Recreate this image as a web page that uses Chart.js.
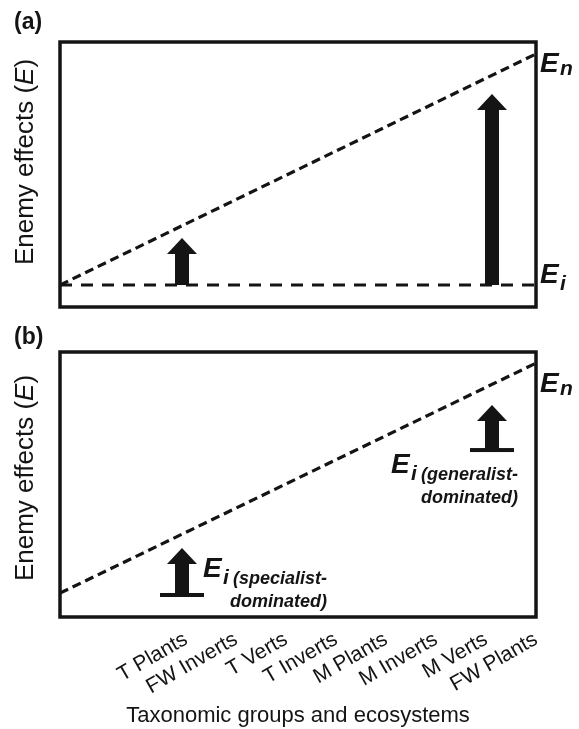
<!DOCTYPE html>
<html>
<head>
<meta charset="utf-8">
<script src="https://cdn.jsdelivr.net/npm/chart.js@4.4.1/dist/chart.umd.min.js"></script>
<style>
  body { margin: 0; background: #fff; }
  canvas { display: block; }
</style>
</head>
<body>
<canvas id="chartA" width="579" height="320"></canvas>
<canvas id="chartB" width="579" height="409"></canvas>
<script>
const FONT = "'Liberation Sans', Arial, Helvetica, sans-serif";
const INK = '#141414';

// x axis: groups and where they sit on the axis
const categories = ['T Plants', 'FW Inverts', 'T Verts', 'T Inverts', 'M Plants', 'M Inverts', 'M Verts', 'FW Plants'];
const categoryPos = [0, 1, 2, 3, 4, 5, 6, 7];
const xEnds = [-2.52, 7];

// panel (a)
const aNatural = [8.3, 95.5];   // E_n line, left and right end
const aIntro = [8.3, 8.3];      // E_i line
const aArrowX = [-0.08, 6.12];
const aArrowFrom = [8.3, 8.3];
const aArrowTo = [26, 80.4];

// panel (b)
const bNatural = [9, 95.8];
const bArrowX = [-0.08, 6.12];
const bArrowFrom = [8.3, 63];
const bArrowTo = [26, 80];

// draws a row of text pieces with their own fonts, left to right
function drawRuns(ctx, x, y, runs) {
  runs.forEach(r => {
    ctx.font = r.font;
    ctx.fillText(r.text, x, y + (r.dy || 0));
    x += ctx.measureText(r.text).width;
  });
}

const figurePlugin = {
  id: 'figure',
  afterDatasetsDraw(chart, args, opts) {
    const ctx = chart.ctx;
    const { left, top, right, bottom } = chart.chartArea;
    const xs = chart.scales.x, ys = chart.scales.y;
    ctx.save();
    ctx.fillStyle = INK;
    ctx.strokeStyle = INK;

    // arrows
    opts.arrowX.forEach((xv, i) => {
      const px = xs.getPixelForValue(xv);
      const y0 = ys.getPixelForValue(opts.arrowFrom[i]);
      const y1 = ys.getPixelForValue(opts.arrowTo[i]);
      ctx.fillRect(px - 7, y1 + 15, 14, y0 - y1 - 15);
      ctx.beginPath();
      ctx.moveTo(px, y1);
      ctx.lineTo(px + 15, y1 + 16);
      ctx.lineTo(px - 15, y1 + 16);
      ctx.closePath();
      ctx.fill();
      if (opts.baseBars) ctx.fillRect(px - 22, y0 - 2, 44, 4);
    });

    // frame
    ctx.lineWidth = 3.5;
    ctx.strokeRect(left, top, right - left, bottom - top);

    // panel letter
    ctx.textAlign = 'left';
    ctx.textBaseline = 'alphabetic';
    ctx.font = 'bold 23px ' + FONT;
    ctx.fillText(opts.letter[0], 14, opts.letter[1]);

    // y title, rotated
    ctx.save();
    ctx.translate(26, opts.yTitleY);
    ctx.rotate(-Math.PI / 2);
    ctx.textBaseline = 'middle';
    const reg = '26px ' + FONT, ita = 'italic 26px ' + FONT;
    const parts = [{ text: 'Enemy effects (', font: reg }, { text: 'E', font: ita }, { text: ')', font: reg }];
    let w = 0;
    parts.forEach(p => { ctx.font = p.font; w += ctx.measureText(p.text).width; });
    drawRuns(ctx, -w / 2, 0, parts);
    ctx.restore();

    // E labels
    const big = 'bold italic 28px ' + FONT, sub = 'bold italic 21px ' + FONT, small = 'bold italic 18px ' + FONT;
    opts.labels.forEach(l => {
      ctx.font = big;
      ctx.fillText('E', l.x, l.y);
      ctx.font = sub;
      ctx.fillText(l.sub, l.x + 20, l.y + l.subDy);
      if (l.note) {
        ctx.font = small;
        const sx = l.x + 20 + ctx.measureText(l.sub).width;
        const first = ' ' + l.note[0];
        ctx.fillText(first, sx, l.y + l.subDy);
        const endX = sx + ctx.measureText(first).width;
        ctx.textAlign = 'right';
        ctx.fillText(l.note[1], endX, l.y + l.subDy + 23);
        ctx.textAlign = 'left';
      }
    });
    ctx.restore();
  }
};

function lineSet(ys, dash) {
  return {
    data: xEnds.map((v, i) => ({ x: v, y: ys[i] })),
    borderColor: INK,
    borderWidth: 3.2,
    borderDash: dash,
    pointRadius: 0,
    fill: false
  };
}

// Panel (a)
const chartA = new Chart(document.getElementById('chartA'), {
  type: 'line',
  data: {
    datasets: [lineSet(aNatural, [9, 5]), lineSet(aIntro, [12, 9])]
  },
  options: {
    responsive: false,
    animation: false,
    events: [],
    layout: { padding: { left: 60, right: 43, top: 42, bottom: 13 } },
    scales: {
      x: { type: 'linear', min: xEnds[0], max: xEnds[1], display: false },
      y: { min: 0, max: 100, display: false }
    },
    plugins: {
      legend: { display: false },
      tooltip: { enabled: false },
      figure: {
        arrowX: aArrowX, arrowFrom: aArrowFrom, arrowTo: aArrowTo, baseBars: false,
        letter: ['(a)', 29], yTitleY: 162,
        labels: [
          { x: 540, y: 72, sub: 'n', subDy: 3 },
          { x: 540, y: 283, sub: 'i', subDy: 7 }
        ]
      }
    }
  },
  plugins: [figurePlugin]
});

// Panel (b)
const chartB = new Chart(document.getElementById('chartB'), {
  type: 'line',
  data: {
    datasets: [lineSet(bNatural, [9, 5])]
  },
  options: {
    responsive: false,
    animation: false,
    events: [],
    layout: { padding: { left: 60, right: 43, top: 32, bottom: 0 } },
    scales: {
      x: {
        type: 'linear', min: xEnds[0], max: xEnds[1],
        afterBuildTicks: s => { s.ticks = categoryPos.map(v => ({ value: v })); },
        afterFit: s => { s.height = 112; },
        grid: { display: false, drawTicks: false },
        border: { display: false },
        ticks: {
          autoSkip: false, minRotation: 30, maxRotation: 30, padding: 10,
          color: INK, font: { family: FONT, size: 21 },
          callback: (v, i) => categories[i]
        },
        title: {
          display: true, text: 'Taxonomic groups and ecosystems', color: INK,
          font: { family: FONT, size: 22 }, padding: { top: 0, bottom: 0 }
        }
      },
      y: { min: 0, max: 100, display: false }
    },
    plugins: {
      legend: { display: false },
      tooltip: { enabled: false },
      figure: {
        arrowX: bArrowX, arrowFrom: bArrowFrom, arrowTo: bArrowTo, baseBars: true,
        letter: ['(b)', 24], yTitleY: 158,
        labels: [
          { x: 540, y: 72, sub: 'n', subDy: 3 },
          { x: 203, y: 257, sub: 'i', subDy: 7, note: ['(specialist-', 'dominated)'] },
          { x: 391, y: 153, sub: 'i', subDy: 7, note: ['(generalist-', 'dominated)'] }
        ]
      }
    }
  },
  plugins: [figurePlugin]
});
</script>
</body>
</html>
